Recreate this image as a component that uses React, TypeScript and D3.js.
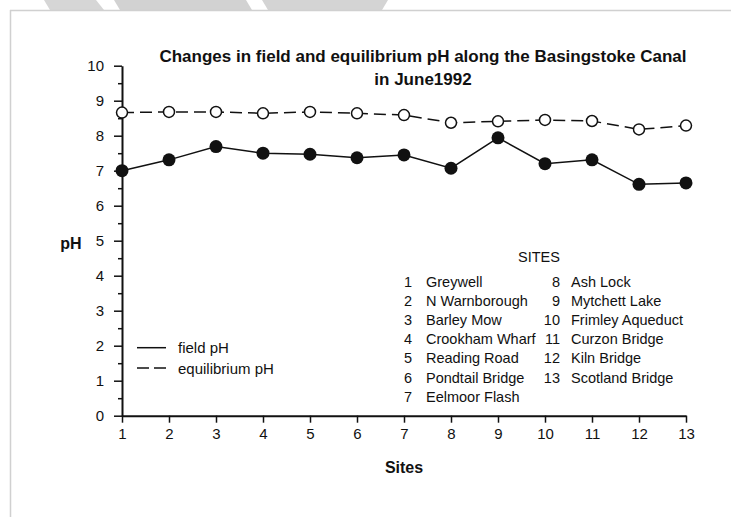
import React, { useEffect, useRef } from 'react';
import * as d3 from 'd3';

// pH readings along the canal, June 1992
const sites = [1, 2, 3, 4, 5, 6, 7, 8, 9, 10, 11, 12, 13];
const fieldPH = [7.0, 7.31, 7.69, 7.5, 7.47, 7.37, 7.45, 7.07, 7.94, 7.2, 7.31, 6.61, 6.65];
const equilibriumPH = [8.66, 8.68, 8.68, 8.64, 8.68, 8.64, 8.59, 8.37, 8.41, 8.45, 8.42, 8.18, 8.29];
const yTicks = [0, 1, 2, 3, 4, 5, 6, 7, 8, 9, 10];
const yMinorTicks = [0.5, 1.5, 2.5, 3.5, 4.5, 5.5, 6.5, 7.5, 8.5, 9.5];
const siteNames = [
  'Greywell', 'N Warnborough', 'Barley Mow', 'Crookham Wharf', 'Reading Road',
  'Pondtail Bridge', 'Eelmoor Flash', 'Ash Lock', 'Mytchett Lake', 'Frimley Aqueduct',
  'Curzon Bridge', 'Kiln Bridge', 'Scotland Bridge',
];

const W = 731;
const H = 517;
const FONT = 'Arial, "Liberation Sans", sans-serif';

const App = () => {
  const xAxisRef = useRef<SVGGElement>(null);
  const yAxisRef = useRef<SVGGElement>(null);
  const yMinorRef = useRef<SVGGElement>(null);

  const x = d3.scaleLinear().domain([1, 13]).range([122, 686]);
  const y = d3.scaleLinear().domain([0, 10]).range([415.7, 65.7]);

  useEffect(() => {
    const xAxis = d3.axisBottom(x).tickValues(sites).tickFormat(d3.format('d')).tickSize(7).tickSizeOuter(0).tickPadding(6);
    const yAxis = d3.axisLeft(y).tickValues(yTicks).tickFormat(d3.format('d')).tickSize(8).tickSizeOuter(0).tickPadding(10);
    const yMinor = d3.axisLeft(y).tickValues(yMinorTicks).tickFormat(() => '').tickSize(4).tickSizeOuter(0);
    const style = (g) => {
      g.attr('font-size', 15).attr('font-family', FONT);
      g.select('.domain').attr('stroke', '#111').attr('stroke-width', 2);
      g.selectAll('.tick line').attr('stroke', '#111').attr('stroke-width', 1.5);
      g.selectAll('.tick text').attr('fill', '#111');
    };
    d3.select(xAxisRef.current).call(xAxis).call(style);
    d3.select(yAxisRef.current).call(yAxis).call(style);
    d3.select(yMinorRef.current).call(yMinor).call(style);
    d3.select(yMinorRef.current).select('.domain').remove();
  }, []);

  const line = d3.line<number>().x((d, i) => x(sites[i])).y((d) => y(d));

  return (
    <svg width={W} height={H} style={{ position: 'absolute', left: 0, top: 0, background: '#fff' }}>
      {/* scanned page edge */}
      <polygon points="44,0 96,0 104,10 50,10" fill="#d6d6d6" />
      <polygon points="114,0 246,0 252,10 120,10" fill="#d2d2d2" />
      <polygon points="262,0 388,0 382,10 268,10" fill="#d4d4d4" />
      <line x1={10} y1={10.5} x2={W} y2={10.5} stroke="#d0d0d0" strokeWidth={1.5} />
      <line x1={10.5} y1={10} x2={10.5} y2={H} stroke="#d0d0d0" strokeWidth={1.5} />

      <g style={{ fontFamily: FONT, fontWeight: 'bold', fontSize: 17 }} fill="#111" textAnchor="middle">
        <text x={423} y={62}>Changes in field and equilibrium pH along the Basingstoke Canal</text>
        <text x={423} y={85}>in June1992</text>
      </g>

      <g ref={yMinorRef} transform="translate(122,0)" />
      <g ref={yAxisRef} transform="translate(122,0)" />
      <g ref={xAxisRef} transform={`translate(0,${y(0)})`} />

      <text x={71} y={249} textAnchor="middle" style={{ fontFamily: FONT, fontWeight: 'bold', fontSize: 16 }} fill="#111">pH</text>
      <text x={404} y={473} textAnchor="middle" style={{ fontFamily: FONT, fontWeight: 'bold', fontSize: 16 }} fill="#111">Sites</text>

      <path d={line(equilibriumPH) || ''} fill="none" stroke="#111" strokeWidth={1.5} strokeDasharray="12,6" />
      <path d={line(fieldPH) || ''} fill="none" stroke="#111" strokeWidth={1.5} />
      {equilibriumPH.map((v, i) => (
        <circle key={'e' + i} cx={x(sites[i])} cy={y(v)} r={5.5} fill="#fff" stroke="#111" strokeWidth={1.5} />
      ))}
      {fieldPH.map((v, i) => (
        <circle key={'f' + i} cx={x(sites[i])} cy={y(v)} r={6.5} fill="#111" />
      ))}

      {/* line style legend */}
      <g style={{ fontFamily: FONT, fontSize: 15 }} fill="#111">
        <line x1={137} y1={347.7} x2={166} y2={347.7} stroke="#111" strokeWidth={1.5} />
        <text x={178} y={353}>field pH</text>
        <line x1={137} y1={368} x2={166} y2={368} stroke="#111" strokeWidth={1.5} strokeDasharray="12,5" />
        <text x={178} y={374}>equilibrium pH</text>
      </g>

      {/* site key */}
      <g style={{ fontFamily: FONT, fontSize: 14.5 }} fill="#111">
        <text x={539} y={262} textAnchor="middle">SITES</text>
        {siteNames.map((name, i) => {
          const col = i < 7 ? 0 : 1;
          const row = col === 0 ? i : i - 7;
          const by = 287 + row * 19.1;
          return (
            <g key={name}>
              <text x={col === 0 ? 412 : 560} y={by} textAnchor="end">{sites[i]}</text>
              <text x={col === 0 ? 426 : 571} y={by}>{name}</text>
            </g>
          );
        })}
      </g>
    </svg>
  );
};

export default App;
